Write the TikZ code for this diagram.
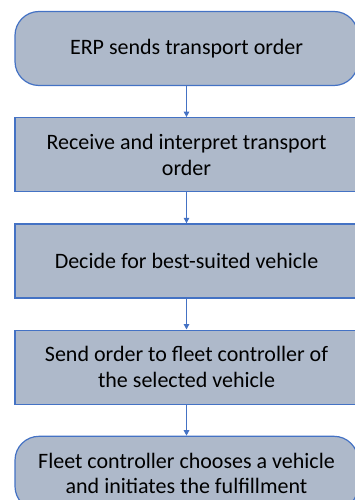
\documentclass[tikz,border=0pt]{standalone}
\usepackage{fontspec}
\setmainfont{Carlito}
\usetikzlibrary{positioning,arrows.meta}
\definecolor{boxfill}{RGB}{174,185,202}
\definecolor{boxline}{RGB}{68,114,196}
\begin{document}
\begin{tikzpicture}[x=1pt,y=1pt,
    node distance=31pt,
    stepbox/.style={draw=boxline, line width=1.2pt, fill=boxfill,
        minimum width=343pt, minimum height=74pt, align=center,
        font=\fontsize{22}{25.5}\selectfont},
    termbox/.style={stepbox, rounded corners=24pt},
    flow/.style={draw=boxline, line width=1.2pt, -{Triangle[length=5.5pt,width=5.5pt]}}]
    \useasboundingbox (0,0) rectangle (355,-500);

    % Steps
    \node[termbox] (erp) at (186.5,-48.5) {ERP sends transport order};
    \node[stepbox, below=of erp] (recv) {Receive and interpret transport\\order};
    \node[stepbox, below=of recv] (decide) {Decide for best-suited vehicle};
    \node[stepbox, below=of decide] (send) {Send order to fleet controller of\\the selected vehicle};
    \node[termbox, below=of send] (fleet) {Fleet controller chooses a vehicle\\and initiates the fulfillment};

    % Arrows
    \foreach \a/\b in {erp/recv,recv/decide,decide/send,send/fleet}
        \draw[flow] (\a) -- (\b);
\end{tikzpicture}
\end{document}
